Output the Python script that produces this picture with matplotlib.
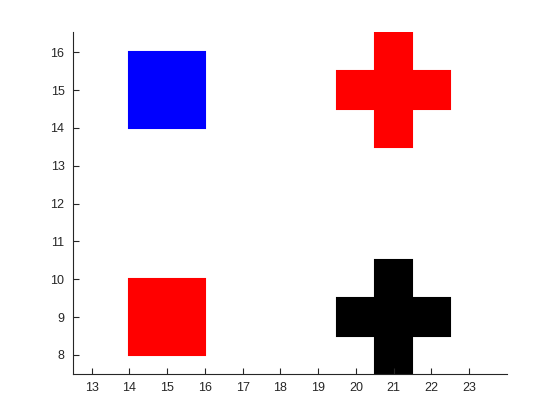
import matplotlib
matplotlib.use('Agg')
from matplotlib import pyplot as plt

# shape outlines (x, y corners)
blue_sq_x = [14, 16, 16, 14]
blue_sq_y = [14, 14, 16, 16]
red_sq_x = [14, 16, 16, 14]
red_sq_y = [8, 8, 10, 10]
cross_x = [20.5, 21.5, 21.5, 22.5, 22.5, 21.5, 21.5, 20.5, 20.5, 19.5, 19.5, 20.5]
red_cross_y = [13.5, 13.5, 14.5, 14.5, 15.5, 15.5, 16.5, 16.5, 15.5, 15.5, 14.5, 14.5]
black_cross_y = [7.5, 7.5, 8.5, 8.5, 9.5, 9.5, 10.5, 10.5, 9.5, 9.5, 8.5, 8.5]

xticks = list(range(13, 24))
yticks = list(range(8, 17))

plt.rcParams['font.family'] = ['Liberation Sans', 'DejaVu Sans']

fig = plt.figure(figsize=(5.6, 4.2), dpi=100)
fig.patch.set_facecolor('white')
ax = fig.add_axes([0.13, 0.11, 0.775, 0.815])

ax.fill(blue_sq_x, blue_sq_y, color='#0000ff', lw=1.5)
ax.fill(red_sq_x, red_sq_y, color='#ff0000', lw=1.5)
ax.fill(cross_x, red_cross_y, color='#ff0000', lw=1.5)
ax.fill(cross_x, black_cross_y, color='black', lw=1.5)

ax.set_xlim(12.5, 24)
ax.set_ylim(7.5, 16.55)
ax.set_xticks(xticks)
ax.set_yticks(yticks)
ax.spines['top'].set_visible(False)
ax.spines['right'].set_visible(False)
for s in ['left', 'bottom']:
    ax.spines[s].set_color('#262626')
    ax.spines[s].set_linewidth(0.8)
ax.tick_params(direction='in', length=4, width=0.8, colors='#262626',
               labelsize=9, pad=6)

fig.savefig('out.png', dpi=100)
